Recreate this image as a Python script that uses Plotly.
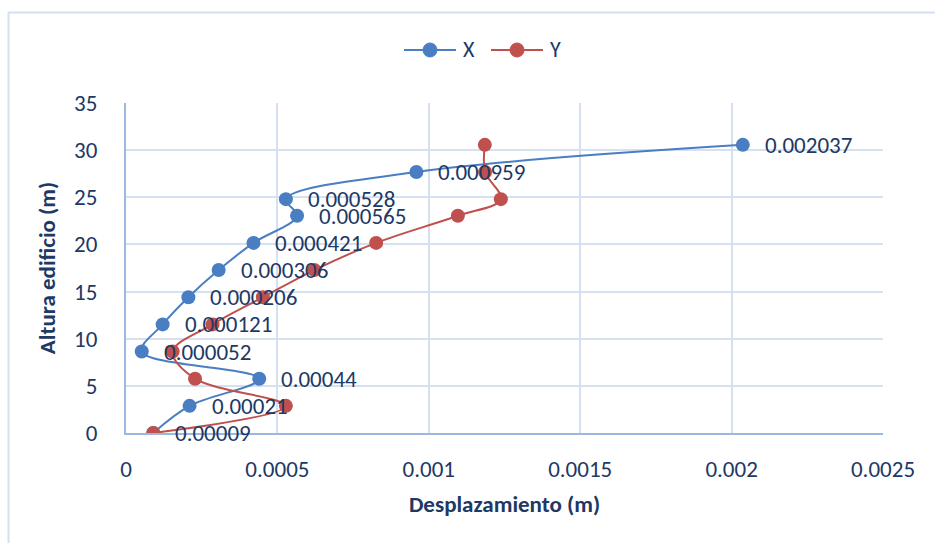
import plotly.graph_objects as go

# Storey heights (m)
altura = [0, 2.88, 5.76, 8.64, 11.52, 14.4, 17.28, 20.16, 23.04, 24.8, 27.68, 30.56]

# Lateral displacement per level (m)
desp_x = [0.00009, 0.00021, 0.00044, 0.000052, 0.000121, 0.000206,
          0.000306, 0.000421, 0.000565, 0.000528, 0.000959, 0.002037]
desp_y = [0.00009, 0.000528, 0.000228, 0.000154, 0.000286, 0.000452,
          0.000622, 0.000826, 0.001096, 0.001238, 0.001186, 0.001185]

series_names = ["X", "Y"]

x_ticks = [0, 0.0005, 0.001, 0.0015, 0.002, 0.0025]
x_tick_text = ["0", "0.0005", "0.001", "0.0015", "0.002", "0.0025"]

BLUE = "#4A7EC2"
RED = "#C0504D"
TEXT = "#203864"
GRID = "#D5E0F1"
AXIS = "#9BB8E2"
FONT = "Calibri, Carlito, Lato, sans-serif"

W, H = 935, 543
ML, MR, MT, MB = 126, 52, 103, 110
PW, PH = W - ML - MR, H - MT - MB


def px_to_paper(px, py):
    return (px - ML) / PW, (H - MB - py) / PH


def fmt(v):
    return format(v, ".6f").rstrip("0")


fig = go.Figure()
fig.add_trace(go.Scatter(
    x=desp_x, y=altura, name=series_names[0], mode="lines+markers",
    line=dict(color=BLUE, width=2, shape="spline", smoothing=1),
    marker=dict(color=BLUE, size=14),
))
fig.add_trace(go.Scatter(
    x=desp_y, y=altura, name=series_names[1], mode="lines+markers",
    line=dict(color=RED, width=2, shape="spline", smoothing=1),
    marker=dict(color=RED, size=14),
))

# Value labels for the X series, drawn above both series
for xv, yv in zip(desp_x, altura):
    fig.add_annotation(
        x=xv, y=yv, text=fmt(xv), showarrow=False,
        xanchor="left", yanchor="middle", xshift=20, yshift=0,
        font=dict(family=FONT, size=23, color=TEXT),
    )

# Outer chart frame
fx0, fy1 = px_to_paper(8.5, 12.5)
fig.add_shape(
    type="rect", xref="paper", yref="paper",
    x0=fx0, x1=1.3, y0=-0.6, y1=fy1,
    line=dict(color="#D3E0F2", width=2), layer="below",
)

# Legend: line segment with a centred marker, followed by the series name
legend_items = [(404, BLUE, series_names[0]), (491, RED, series_names[1])]
for left, color, name in legend_items:
    lx0, ly = px_to_paper(left, 50)
    lx1, _ = px_to_paper(left + 52, 50)
    cx, _ = px_to_paper(left + 26, 50)
    tx, _ = px_to_paper(left + 57, 50)
    fig.add_shape(type="line", xref="paper", yref="paper",
                  x0=lx0, x1=lx1, y0=ly, y1=ly,
                  line=dict(color=color, width=2))
    fig.add_shape(type="circle", xref="paper", yref="paper",
                  xsizemode="pixel", ysizemode="pixel",
                  xanchor=cx, yanchor=ly, x0=-7, x1=7, y0=-7, y1=7,
                  fillcolor=color, line=dict(color=color, width=1))
    fig.add_annotation(x=tx, y=ly, xref="paper", yref="paper", text=name,
                       showarrow=False, xanchor="left", yanchor="middle",
                       font=dict(family=FONT, size=22, color=TEXT))

fig.update_layout(
    width=W, height=H,
    margin=dict(l=ML, r=MR, t=MT, b=MB),
    paper_bgcolor="white", plot_bgcolor="white",
    font=dict(family=FONT, color=TEXT, size=23),
    showlegend=False,
    xaxis=dict(
        range=[0, 0.0025], tickvals=x_ticks, ticktext=x_tick_text,
        showgrid=True, gridcolor=GRID, gridwidth=2,
        showline=True, linecolor=AXIS, linewidth=2,
        zeroline=False, ticks="", ticklabelstandoff=14,
        tickfont=dict(family=FONT, size=23, color=TEXT),
        title=dict(text="<b>Desplazamiento (m)</b>", standoff=14,
                   font=dict(family=FONT, size=23, color=TEXT)),
    ),
    yaxis=dict(
        range=[0, 35], dtick=5,
        showgrid=True, gridcolor=GRID, gridwidth=2,
        showline=True, linecolor=AXIS, linewidth=2,
        zeroline=False, ticks="", ticklabelstandoff=22,
        tickfont=dict(family=FONT, size=23, color=TEXT),
        title=dict(text="<b>Altura edificio (m)</b>", standoff=12,
                   font=dict(family=FONT, size=23, color=TEXT)),
    ),
)

fig.write_html("out.html")
